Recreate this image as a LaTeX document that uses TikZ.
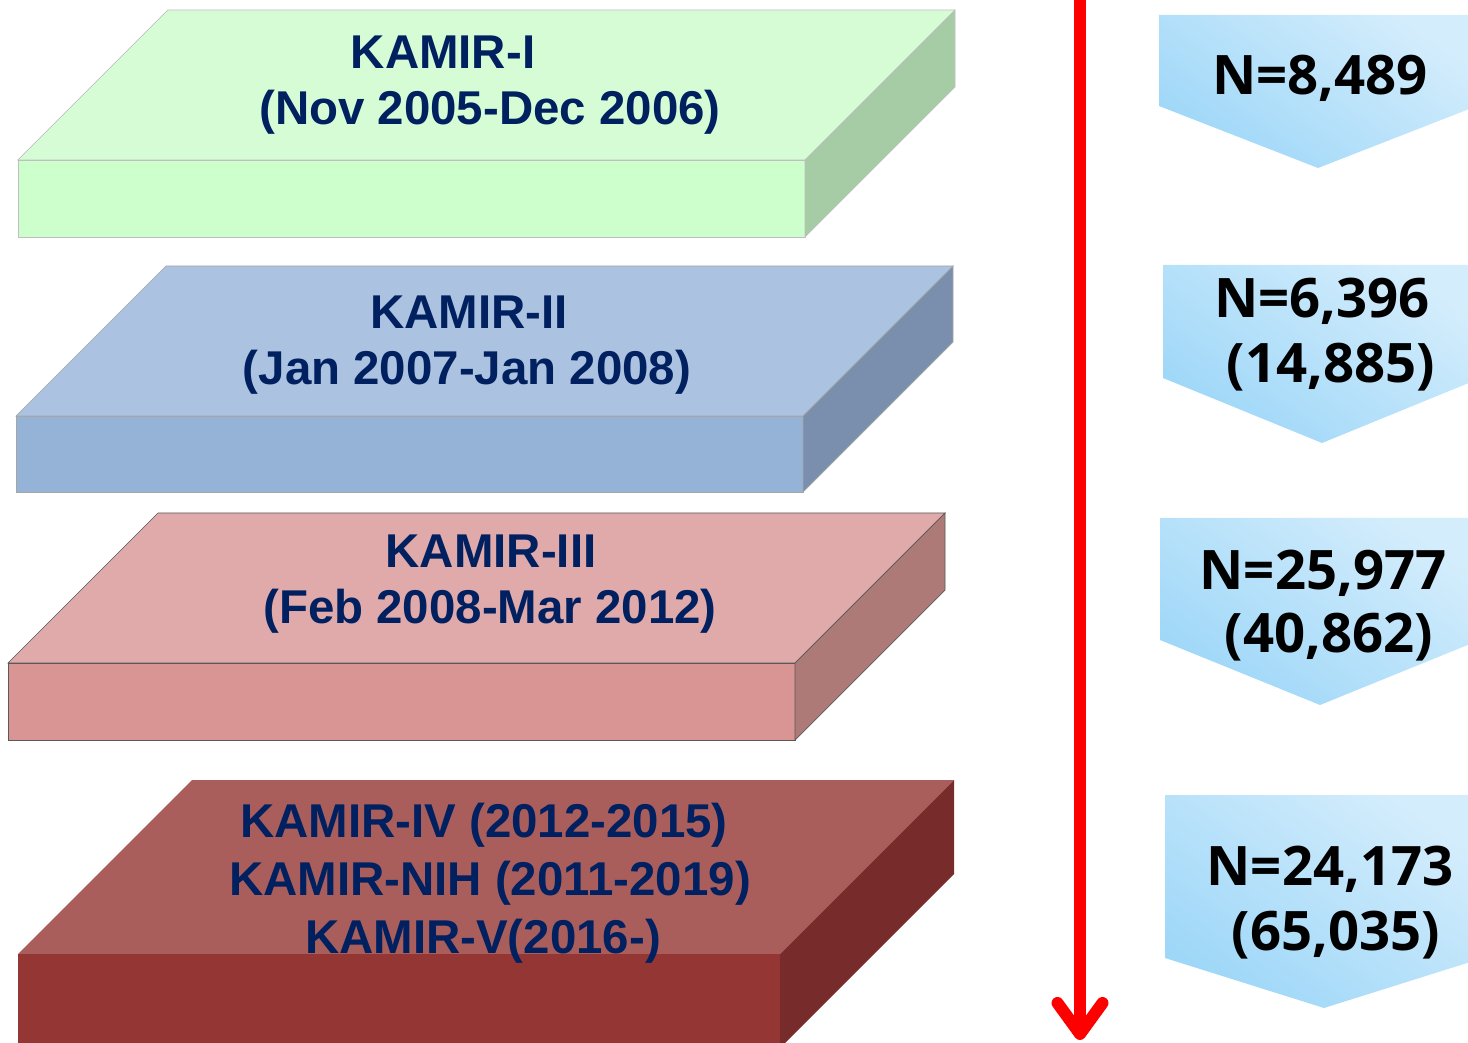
\documentclass[tikz,border=0pt]{standalone}
\usepackage{fontspec}
\setmainfont{Liberation Sans}
\newfontfamily\numfont{Open Sans}
\usetikzlibrary{arrows.meta}

% 颜色
\definecolor{navy}{RGB}{0,32,96}
\definecolor{greenTop}{RGB}{213,252,213}
\definecolor{greenFront}{RGB}{204,255,204}
\definecolor{greenSide}{RGB}{165,204,165}
\definecolor{blueTop}{RGB}{171,194,224}
\definecolor{blueFront}{RGB}{149,179,215}
\definecolor{blueSide}{RGB}{122,143,173}
\definecolor{pinkTop}{RGB}{225,170,170}
\definecolor{pinkFront}{RGB}{217,149,148}
\definecolor{pinkSide}{RGB}{174,122,119}
\definecolor{redTop}{RGB}{169,94,92}
\definecolor{redFront}{RGB}{148,54,52}
\definecolor{redSide}{RGB}{120,43,43}
\definecolor{chevHi}{RGB}{212,237,252}
\definecolor{chevLo}{RGB}{158,215,248}

\begin{document}
\begin{tikzpicture}[x=0.02cm,y=-0.02cm,
    slabtext/.style={font=\fontsize{27}{32}\selectfont\bfseries,text=navy,inner sep=0pt,anchor=base},
    chevtext/.style={font=\numfont\bfseries\fontsize{31}{37}\selectfont,text=black,inner sep=0pt,anchor=base},
    chevron/.style={top color=chevHi,bottom color=chevLo,shading angle=-35},
    timearrow/.style={draw=red,line width=0.24cm,-{Straight Barb[length=0.62cm,width=0.9cm,round]}}]
  \useasboundingbox (0,0) rectangle (1468,1043);
  \clip (0,0) rectangle (1468,1043);

  % 设置厚度（斜向深度）
  \def\depthA{150}
  \def\depthB{174}

  % 绘制第一层 KAMIR-I
  \def\L{18}\def\R{805}\def\T{160}\def\B{237}
  \draw[draw=black!25,fill=greenTop] (\L,\T) -- ++(\depthA,-\depthA) -- (\R+\depthA,\T-\depthA) -- (\R,\T) -- cycle;
  \draw[draw=black!25,fill=greenFront] (\L,\T) rectangle (\R,\B);
  \draw[draw=black!25,fill=greenSide] (\R,\T) -- (\R+\depthA,\T-\depthA) -- (\R+\depthA,\B-\depthA) -- (\R,\B) -- cycle;
  \node[slabtext] (t1a) at (443,69) {KAMIR-I};
  \node[slabtext] (t1b) at (490,125) {(Nov 2005-Dec 2006)};

  % 绘制第二层 KAMIR-II
  \def\L{16}\def\R{803}\def\T{416}\def\B{492}
  \draw[draw=black!35,fill=blueTop] (\L,\T) -- ++(\depthA,-\depthA) -- (\R+\depthA,\T-\depthA) -- (\R,\T) -- cycle;
  \draw[draw=black!35,fill=blueFront] (\L,\T) rectangle (\R,\B);
  \draw[draw=black!35,fill=blueSide] (\R,\T) -- (\R+\depthA,\T-\depthA) -- (\R+\depthA,\B-\depthA) -- (\R,\B) -- cycle;
  \node[slabtext] (t2a) at (469,329) {KAMIR-II};
  \node[slabtext] (t2b) at (467,385) {(Jan 2007-Jan 2008)};

  % 绘制第三层 KAMIR-III
  \def\L{8}\def\R{795}\def\T{663}\def\B{740}
  \draw[draw=black!65,fill=pinkTop] (\L,\T) -- ++(\depthA,-\depthA) -- (\R+\depthA,\T-\depthA) -- (\R,\T) -- cycle;
  \draw[draw=black!65,fill=pinkFront] (\L,\T) rectangle (\R,\B);
  \draw[draw=black!65,fill=pinkSide] (\R,\T) -- (\R+\depthA,\T-\depthA) -- (\R+\depthA,\B-\depthA) -- (\R,\B) -- cycle;
  \node[slabtext] (t3a) at (491,568) {KAMIR-III};
  \node[slabtext] (t3b) at (490,624) {(Feb 2008-Mar 2012)};

  % 绘制第四层 KAMIR-IV / NIH / V
  \def\L{18}\def\R{780}\def\T{954}\def\B{1048}
  \fill[redTop] (\L,\T) -- ++(\depthB,-\depthB) -- (\R+\depthB,\T-\depthB) -- (\R,\T) -- cycle;
  \fill[redFront] (\L,\T) rectangle (\R,\B);
  \fill[redSide] (\R,\T) -- (\R+\depthB,\T-\depthB) -- (\R+\depthB,\B-\depthB) -- (\R,\B) -- cycle;
  \node[slabtext] (t4a) at (484,837) {KAMIR-IV (2012-2015)};
  \node[slabtext] (t4b) at (490,895) {KAMIR-NIH (2011-2019)};
  \node[slabtext] (t4c) at (483,953) {KAMIR-V(2016-)};

  % 时间轴箭头
  \coordinate (arrtop) at (1080,-10);
  \coordinate (arrbot) at (1080,1040);
  \draw[timearrow] (arrtop) -- (arrbot);

  % 右侧的人数标签
  \shade[chevron] (1159,15) -- (1477,15) -- (1477,106) -- (1318,168) -- (1159,106) -- cycle;
  \node[chevtext] (n1) at (1320,95) {N=8,489};

  \shade[chevron] (1163,265) -- (1481,265) -- (1481,378) -- (1322,443) -- (1163,378) -- cycle;
  \node[chevtext] (n2a) at (1322,318) {N=6,396};
  \node[chevtext] (n2b) at (1331,383) {(14,885)};

  \shade[chevron] (1160,518) -- (1480,518) -- (1480,640) -- (1320,705) -- (1160,640) -- cycle;
  \node[chevtext] (n3a) at (1323,590) {N=25,977};
  \node[chevtext] (n3b) at (1329,653) {(40,862)};

  \shade[chevron] (1165,795) -- (1483,795) -- (1483,958) -- (1324,1008) -- (1165,958) -- cycle;
  \node[chevtext] (n4a) at (1330,885) {N=24,173};
  \node[chevtext] (n4b) at (1336,950) {(65,035)};
\end{tikzpicture}
\end{document}
